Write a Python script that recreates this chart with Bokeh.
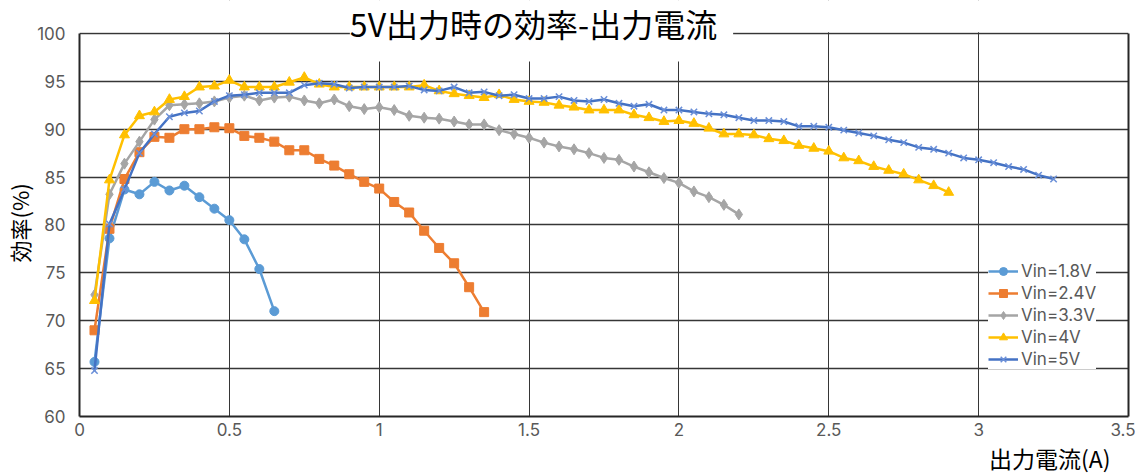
from bokeh.plotting import figure
from bokeh.models import (Range1d, Label, Legend, LegendItem, FixedTicker, Title,
                          LinearAxis, BoxAnnotation)
from bokeh.embed import file_html
from bokeh.resources import INLINE

# ---- data ----
x_18 = [0.05, 0.1, 0.15, 0.2, 0.25, 0.3, 0.35, 0.4, 0.45, 0.5, 0.55, 0.6, 0.65]
y_18 = [65.7, 78.6, 83.7, 83.2, 84.5, 83.6, 84.1, 82.9, 81.7, 80.5, 78.5, 75.4, 71.0]

x_24 = [0.05, 0.1, 0.15, 0.2, 0.25, 0.3, 0.35, 0.4, 0.45, 0.5, 0.55, 0.6, 0.65, 0.7,
        0.75, 0.8, 0.85, 0.9, 0.95, 1.0, 1.05, 1.1, 1.15, 1.2, 1.25, 1.3, 1.35]
y_24 = [69.0, 79.6, 84.8, 87.6, 89.2, 89.1, 90.0, 90.0, 90.2, 90.1, 89.3, 89.1, 88.7, 87.8,
        87.8, 86.9, 86.2, 85.3, 84.5, 83.8, 82.4, 81.3, 79.4, 77.6, 76.0, 73.5, 70.9]

x_33 = [0.05, 0.1, 0.15, 0.2, 0.25, 0.3, 0.35, 0.4, 0.45, 0.5, 0.55, 0.6, 0.65, 0.7,
        0.75, 0.8, 0.85, 0.9, 0.95, 1.0, 1.05, 1.1, 1.15, 1.2, 1.25, 1.3, 1.35, 1.4,
        1.45, 1.5, 1.55, 1.6, 1.65, 1.7, 1.75, 1.8, 1.85, 1.9, 1.95, 2.0, 2.05, 2.1,
        2.15, 2.2]
y_33 = [72.7, 83.2, 86.4, 88.7, 91.0, 92.5, 92.6, 92.7, 92.9, 93.3, 93.5, 93.0, 93.3, 93.4,
        93.0, 92.7, 93.1, 92.4, 92.1, 92.3, 92.0, 91.4, 91.2, 91.1, 90.8, 90.5, 90.5, 89.9,
        89.5, 89.1, 88.6, 88.2, 87.9, 87.5, 87.0, 86.8, 86.1, 85.5, 84.9, 84.4, 83.5, 82.9,
        82.1, 81.1]

x_4 = [0.05, 0.1, 0.15, 0.2, 0.25, 0.3, 0.35, 0.4, 0.45, 0.5, 0.55, 0.6, 0.65, 0.7,
       0.75, 0.8, 0.85, 0.9, 0.95, 1.0, 1.05, 1.1, 1.15, 1.2, 1.25, 1.3, 1.35, 1.4,
       1.45, 1.5, 1.55, 1.6, 1.65, 1.7, 1.75, 1.8, 1.85, 1.9, 1.95, 2.0, 2.05, 2.1,
       2.15, 2.2, 2.25, 2.3, 2.35, 2.4, 2.45, 2.5, 2.55, 2.6, 2.65, 2.7, 2.75, 2.8,
       2.85, 2.9]
y_4 = [72.1, 84.7, 89.4, 91.4, 91.8, 93.1, 93.4, 94.4, 94.5, 95.1, 94.4, 94.4, 94.4, 94.9,
       95.4, 94.7, 94.4, 94.4, 94.4, 94.4, 94.4, 94.4, 94.6, 94.0, 93.7, 93.5, 93.3, 93.6,
       93.1, 92.9, 92.8, 92.5, 92.3, 92.0, 92.0, 92.0, 91.5, 91.2, 90.8, 90.9, 90.6, 90.1,
       89.5, 89.5, 89.4, 89.0, 88.8, 88.3, 88.0, 87.7, 87.0, 86.7, 86.1, 85.7, 85.3, 84.7,
       84.1, 83.4]

x_5 = [0.05, 0.1, 0.15, 0.2, 0.25, 0.3, 0.35, 0.4, 0.45, 0.5, 0.55, 0.6, 0.65, 0.7,
       0.75, 0.8, 0.85, 0.9, 0.95, 1.0, 1.05, 1.1, 1.15, 1.2, 1.25, 1.3, 1.35, 1.4,
       1.45, 1.5, 1.55, 1.6, 1.65, 1.7, 1.75, 1.8, 1.85, 1.9, 1.95, 2.0, 2.05, 2.1,
       2.15, 2.2, 2.25, 2.3, 2.35, 2.4, 2.45, 2.5, 2.55, 2.6, 2.65, 2.7, 2.75, 2.8,
       2.85, 2.9, 2.95, 3.0, 3.05, 3.1, 3.15, 3.2, 3.25]
y_5 = [64.8, 80.1, 83.7, 87.5, 89.5, 91.3, 91.7, 91.9, 92.9, 93.5, 93.6, 93.8, 93.8, 93.8,
       94.6, 94.8, 94.7, 94.3, 94.4, 94.4, 94.4, 94.5, 94.1, 94.0, 94.4, 93.8, 93.9, 93.5,
       93.6, 93.2, 93.2, 93.4, 93.0, 92.9, 93.1, 92.7, 92.4, 92.6, 92.0, 92.0, 91.8, 91.6,
       91.5, 91.2, 90.9, 90.9, 90.8, 90.3, 90.3, 90.2, 89.9, 89.6, 89.3, 88.9, 88.6, 88.1,
       87.9, 87.5, 87.0, 86.8, 86.5, 86.1, 85.8, 85.2, 84.8]

series_names = ["Vin=1.8V", "Vin=2.4V", "Vin=3.3V", "Vin=4V", "Vin=5V"]
x_ticks = [0, 0.5, 1, 1.5, 2, 2.5, 3, 3.5]
y_ticks = [60, 65, 70, 75, 80, 85, 90, 95, 100]
title_text = "5V出力時の効率-出力電流"
x_label = "出力電流(A)"
y_label = "効率(%)"

FONT = "Noto Sans CJK JP"
LATIN = "Inter"
GRID = "#363636"
BORDER = "#262626"
TICK_COL = "#595959"

# frame: x 79..1128, y 0..417 (px); 60..100 spans 384 px
FRAME_TOP = 0
PX_PER_UNIT = 384 / 40
y_top = 100 + (33 - FRAME_TOP) / PX_PER_UNIT

p = figure(width=1135, height=474, output_backend="svg", toolbar_location=None,
           x_range=Range1d(0, 3.5), y_range=Range1d(60, y_top),
           min_border_left=79, min_border_right=7, min_border_top=FRAME_TOP,
           min_border_bottom=57)
p.outline_line_color = None
p.background_fill_color = "white"
p.border_fill_color = "white"

for ax, ticks in ((p.xaxis, x_ticks), (p.yaxis, y_ticks)):
    ax.ticker = FixedTicker(ticks=ticks)
    ax.major_tick_line_color = None
    ax.minor_tick_line_color = None
    ax.major_tick_out = 0
    ax.major_tick_in = 0
    ax.minor_tick_out = 0
    ax.axis_line_color = BORDER
    ax.axis_line_width = 2
    ax.major_label_text_color = TICK_COL
    ax.major_label_text_font = LATIN
    ax.major_label_text_font_size = "17px"
p.yaxis.bounds = (60, 100)
p.xaxis.major_label_standoff = 6
p.yaxis.major_label_standoff = 14
p.xaxis.major_label_overrides = {0: "0", 0.5: "0.5", 1: "1", 1.5: "1.5", 2: "2",
                                 2.5: "2.5", 3: "3", 3.5: "3.5"}

# right border of the plot area
rax = LinearAxis(ticker=FixedTicker(ticks=[]), bounds=(60, 100),
                 axis_line_color=BORDER, axis_line_width=2,
                 major_tick_line_color=None, minor_tick_line_color=None,
                 major_tick_out=0, minor_tick_out=0, major_label_text_font_size="0px")
p.add_layout(rax, "right")

p.xgrid.ticker = FixedTicker(ticks=x_ticks)
p.ygrid.ticker = FixedTicker(ticks=y_ticks)
p.xgrid.grid_line_color = GRID
p.ygrid.grid_line_color = GRID
p.xgrid.grid_line_width = 1
p.ygrid.grid_line_width = 1.3

# blank area above the 100% line (title zone)
p.add_layout(BoxAnnotation(bottom=100.12, fill_color="white", fill_alpha=1.0,
                           line_color=None, level="underlay"))

styles = [
    (x_18, y_18, "#5B9BD5", "circle", 9),
    (x_24, y_24, "#ED7D31", "square", 9),
    (x_33, y_33, "#A5A5A5", "diamond", 11),
    (x_4, y_4, "#FFC000", "triangle", 10),
    (x_5, y_5, "#4472C4", "x", 9),
]
items = []
for (xs, ys, col, mk, sz), name in zip(styles, series_names):
    ln = p.line(xs, ys, line_color=col, line_width=2.5)
    if mk == "x":
        sc = p.scatter(xs, ys, marker=mk, size=sz, line_color="#6A8FD8", line_width=1.5)
    else:
        sc = p.scatter(xs, ys, marker=mk, size=sz, fill_color=col, line_color=col)
    items.append(LegendItem(label=name, renderers=[ln, sc]))

legend = Legend(items=items, location=(909, 47), background_fill_color="white",
                background_fill_alpha=1.0, border_line_color=None,
                label_text_font=LATIN, label_text_font_size="17px",
                label_text_color=TICK_COL, glyph_width=30, glyph_height=20,
                spacing=2, padding=5, margin=0, label_standoff=3,
                label_height=20)
p.add_layout(legend, "center")

title = Label(x=462, y=386, x_units="screen", y_units="screen",
              text=title_text, text_font=FONT, text_font_size="32px",
              text_color="#000000", text_align="center", text_baseline="middle",
              background_fill_color="white", background_fill_alpha=1.0,
              padding=(0, 16, 0, 16))
p.add_layout(title)

p.add_layout(Title(text=y_label, align="left", offset=154, standoff=0,
                   text_font=FONT, text_font_size="22px", text_font_style="normal",
                   text_color="#000000"), "left")
p.add_layout(Title(text=x_label, align="right", offset=18, standoff=0,
                   text_font=FONT, text_font_size="23px", text_font_style="normal",
                   text_color="#000000"), "below")

open("out.html", "w").write(file_html(p, INLINE))
